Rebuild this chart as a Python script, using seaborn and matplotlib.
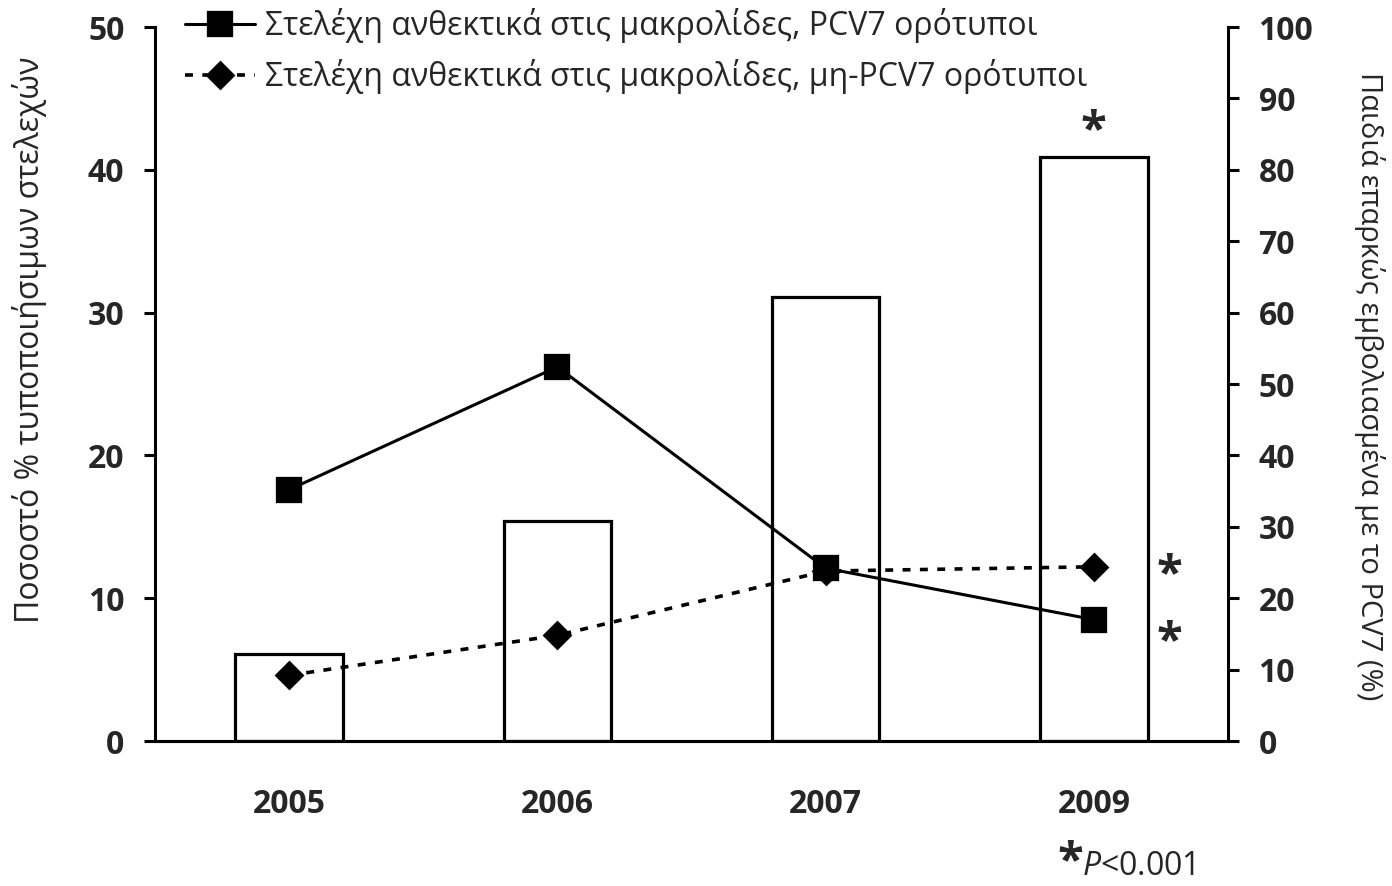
import numpy as np
import pandas as pd
import matplotlib
matplotlib.use("Agg")
import matplotlib.pyplot as plt
import seaborn as sns

# dati
years = ['2005', '2006', '2007', '2009']
vaccinated = [12.2, 30.8, 62.2, 81.8]      # asse destro (%)
pcv7_res = [17.6, 26.2, 12.1, 8.5]         # asse sinistro
non_pcv7_res = [4.6, 7.4, 11.9, 12.2]      # asse sinistro

label_pcv7 = 'Στελέχη ανθεκτικά στις μακρολίδες, PCV7 ορότυποι'
label_non = 'Στελέχη ανθεκτικά στις μακρολίδες, μη-PCV7 ορότυποι'
ylabel_left = 'Ποσοστό % τυποποιήσιμων στελεχών'
ylabel_right = 'Παιδιά επαρκώς εμβολιασμένα με το PCV7 (%)'

sns.set_style('white')
plt.rcParams['font.family'] = ['Open Sans', 'DejaVu Sans']
plt.rcParams['mathtext.fontset'] = 'custom'
plt.rcParams['mathtext.it'] = 'Open Sans:italic'
plt.rcParams['mathtext.rm'] = 'Open Sans'

df_bars = pd.DataFrame({'Year': years, 'Vaccinated': vaccinated})

fig = plt.figure(figsize=(13.92, 8.86), dpi=100)
ax = fig.add_axes([155 / 1392, 1 - 741 / 886, (1228 - 155) / 1392, (741 - 27) / 886])
ax2 = ax.twinx()

# barre sull'asse destro
sns.barplot(data=df_bars, x='Year', y='Vaccinated', color='white', edgecolor='black',
            linewidth=2.3, width=0.4, saturation=1, ax=ax2)

# linee sull'asse sinistro
sns.pointplot(x=years, y=pcv7_res, color='black', errorbar=None, ax=ax,
              marker='s', markersize=17, linestyle='-', linewidth=2.2, label=label_pcv7)
sns.pointplot(x=years, y=non_pcv7_res, color='black', errorbar=None, ax=ax,
              marker='D', markersize=13, linestyle=(0, (2.2, 2.6)), linewidth=2.6, label=label_non)

ax.set_zorder(ax2.get_zorder() + 1)
ax.patch.set_visible(False)

ax.set_xlim(-0.5, 3.5)
ax.set_ylim(0, 50)
ax2.set_ylim(0, 100)
ax.set_yticks(np.arange(0, 51, 10))
ax2.set_yticks(np.arange(0, 101, 10))

# tacche ai confini delle categorie, etichette al centro
ax.set_xticks([-0.5, 0.5, 1.5, 2.5, 3.5])
ax.set_xticklabels([])
ax.set_xticks(range(len(years)), minor=True)
ax.set_xticklabels(years, minor=True)
ax2.set_xticks([-0.5, 0.5, 1.5, 2.5, 3.5])
ax2.set_xticklabels([])

for a in (ax, ax2):
    a.spines['top'].set_visible(False)
    for s in ('left', 'right', 'bottom'):
        a.spines[s].set_linewidth(2.2)
        a.spines[s].set_color('black')
ax.spines['right'].set_visible(False)
ax2.spines['left'].set_visible(False)

ax.tick_params(axis='x', which='major', direction='out', length=8, width=2.2, color='black')
ax.tick_params(axis='x', which='minor', length=0, pad=34, labelsize=23)
ax.tick_params(axis='y', direction='out', length=8, width=2.2, labelsize=23, pad=14, color='black')
ax2.tick_params(axis='y', direction='out', length=8, width=2.2, labelsize=23, pad=14, color='black')
ax2.tick_params(axis='x', length=0)
for lab in ax.get_xticklabels(minor=True) + ax.get_yticklabels() + ax2.get_yticklabels():
    lab.set_fontweight('bold')

ax.set_xlabel('')
ax2.set_xlabel('')
ax.set_ylabel(ylabel_left, fontsize=23, va='center')
ax.yaxis.set_label_coords((30 - 155) / 1073, (741 - 340) / 714)
ax2.set_ylabel(ylabel_right, fontsize=21, rotation=270, va='center')
ax2.yaxis.set_label_coords((1370 - 155) / 1073, (741 - 386) / 714)

# asterischi
ax2.text(3, 82, '*', fontsize=34, fontweight='bold', ha='center', va='bottom')
ax.text(3.28, 11.55, '*', fontsize=34, fontweight='bold', ha='center', va='center')
ax.text(3.28, 6.85, '*', fontsize=34, fontweight='bold', ha='center', va='center')
fig.text(1070 / 1392, 0.026, '*', fontsize=34, fontweight='bold', ha='center', va='center')
fig.text(1082 / 1392, 0.012, r'$\mathit{P}$<0.001', fontsize=23, ha='left', va='baseline')

leg = ax.legend(loc='upper left', bbox_to_anchor=(185 / 1392, 1 - 8 / 886),
                bbox_transform=fig.transFigure, frameon=False, fontsize=23,
                handlelength=2.2, handletextpad=0.3, labelspacing=0.5,
                borderpad=0, borderaxespad=0)

fig.savefig('out.png', dpi=100)
